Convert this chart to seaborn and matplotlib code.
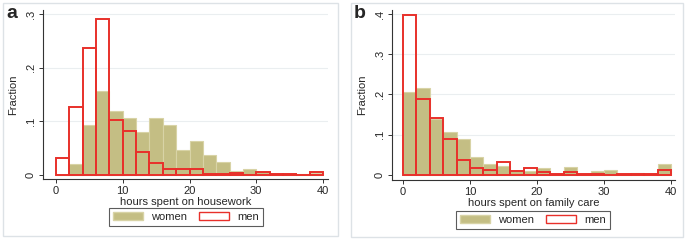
import numpy as np
import pandas as pd
import matplotlib.pyplot as plt
import seaborn as sns
from matplotlib.patches import Rectangle, Patch

# bin edges (hours, width 2)
bin_edges = list(range(0, 42, 2))
bin_mids = [e + 1 for e in bin_edges[:-1]]

# panel a: housework (fractions per bin)
house_women = [0.000, 0.020, 0.093, 0.157, 0.120, 0.106, 0.080, 0.106, 0.094, 0.047,
               0.063, 0.037, 0.024, 0.008, 0.011, 0.005, 0.002, 0.002, 0.002, 0.004]
house_men = [0.031, 0.127, 0.236, 0.291, 0.102, 0.082, 0.043, 0.023, 0.012, 0.011,
             0.011, 0.002, 0.002, 0.003, 0.000, 0.006, 0.001, 0.001, 0.000, 0.005]

# panel b: family care
care_women = [0.206, 0.215, 0.140, 0.106, 0.089, 0.044, 0.027, 0.023, 0.010, 0.011,
              0.017, 0.003, 0.020, 0.003, 0.009, 0.012, 0.002, 0.004, 0.002, 0.027]
care_men = [0.397, 0.190, 0.141, 0.089, 0.036, 0.017, 0.012, 0.031, 0.010, 0.018,
            0.007, 0.003, 0.007, 0.002, 0.002, 0.000, 0.002, 0.002, 0.002, 0.013]

x_ticks = [0, 10, 20, 30, 40]
y_ticks_a = [0, 0.1, 0.2, 0.3]
y_ticks_b = [0, 0.1, 0.2, 0.3, 0.4]

sns.set_style("white")
plt.rcParams['font.family'] = ['Liberation Sans', 'DejaVu Sans']

women_col = '#C4BE84'
women_edge = '#D8D3A6'
men_col = '#E8302A'
fs = 8

W, H = 685, 240
fig = plt.figure(figsize=(W / 100, H / 100), dpi=100)
fig.patch.set_facecolor('white')


def px_axes(x0, y0, x1, y1):
    # pixel box (top-left origin) -> figure fraction axes
    return fig.add_axes([x0 / W, 1 - y1 / H, (x1 - x0) / W, (y1 - y0) / H])


def panel(box, ax_box, women, men, yticks, xlim, ylim, xlabel, letter, leg_box):
    bx0, by0, bx1, by1 = box
    fig.patches.append(Rectangle((bx0 / W, 1 - by1 / H), (bx1 - bx0) / W, (by1 - by0) / H,
                                 transform=fig.transFigure, facecolor='white',
                                 edgecolor='#DDE2E6', lw=1.0, zorder=-5))
    ax = px_axes(*ax_box)
    ax.set_zorder(2)
    ax.patch.set_alpha(0)
    df = pd.DataFrame({'mid': bin_mids, 'women': women, 'men': men})
    sns.histplot(data=df, x='mid', weights='women', bins=bin_edges, ax=ax,
                 color=women_col, edgecolor=women_edge, linewidth=0.8, alpha=1, zorder=2)
    sns.histplot(data=df, x='mid', weights='men', bins=bin_edges, ax=ax,
                 fill=False, color=men_col, linewidth=1.4, zorder=3)
    ax.set_xlim(*xlim)
    ax.set_ylim(*ylim)
    ax.set_xticks(x_ticks)
    ax.set_yticks(yticks)
    ax.set_yticklabels(['0'] + ['.%d' % round(v * 10) for v in yticks[1:]],
                       rotation=90, va='center')
    ax.tick_params(axis='both', direction='out', length=3, width=0.7,
                   labelsize=fs, color='#333333', pad=2, left=True, bottom=True)
    for v in yticks[1:]:
        ax.axhline(v, color='#EAEEF0', lw=0.8, zorder=0)
    for s in ['top', 'right']:
        ax.spines[s].set_visible(False)
    for s in ['left', 'bottom']:
        ax.spines[s].set_color('#333333')
        ax.spines[s].set_linewidth(0.8)
    ax.set_xlabel(xlabel, fontsize=fs, labelpad=1)
    ax.set_ylabel('Fraction', fontsize=fs, labelpad=6)
    fig.text((bx0 + 3) / W, 1 - 14 / H, letter, fontsize=14, fontweight='bold',
             va='center', ha='left')
    # legend
    lx0, ly0, lx1, ly1 = leg_box
    handles = [Patch(facecolor=women_col, edgecolor=women_edge, label='women'),
               Patch(facecolor='white', edgecolor=men_col, label='men')]
    leg = fig.legend(handles=handles, loc='center',
                     bbox_to_anchor=((lx0 + lx1) / 2 / W, 1 - (ly0 + ly1) / 2 / H),
                     ncol=2, fontsize=fs, frameon=True, fancybox=False,
                     handlelength=2.7, handleheight=0.8, columnspacing=1.1,
                     handletextpad=0.7, borderpad=0.35, edgecolor='#333333')
    leg.get_frame().set_linewidth(0.8)
    return ax


panel((3, 3, 338, 236), (43, 10, 328, 179), house_women, house_men,
      y_ticks_a, (-1.95, 40.75), (-0.0075, 0.3075),
      'hours spent on housework', 'a', (111, 208, 261, 226))
panel((351, 3, 683, 237), (392, 10, 675, 180), care_women, care_men,
      y_ticks_b, (-1.64, 40.6), (-0.0125, 0.41),
      'hours spent on family care', 'b', (458, 211, 608, 229))

fig.savefig('out.png', dpi=100)
plt.close()
